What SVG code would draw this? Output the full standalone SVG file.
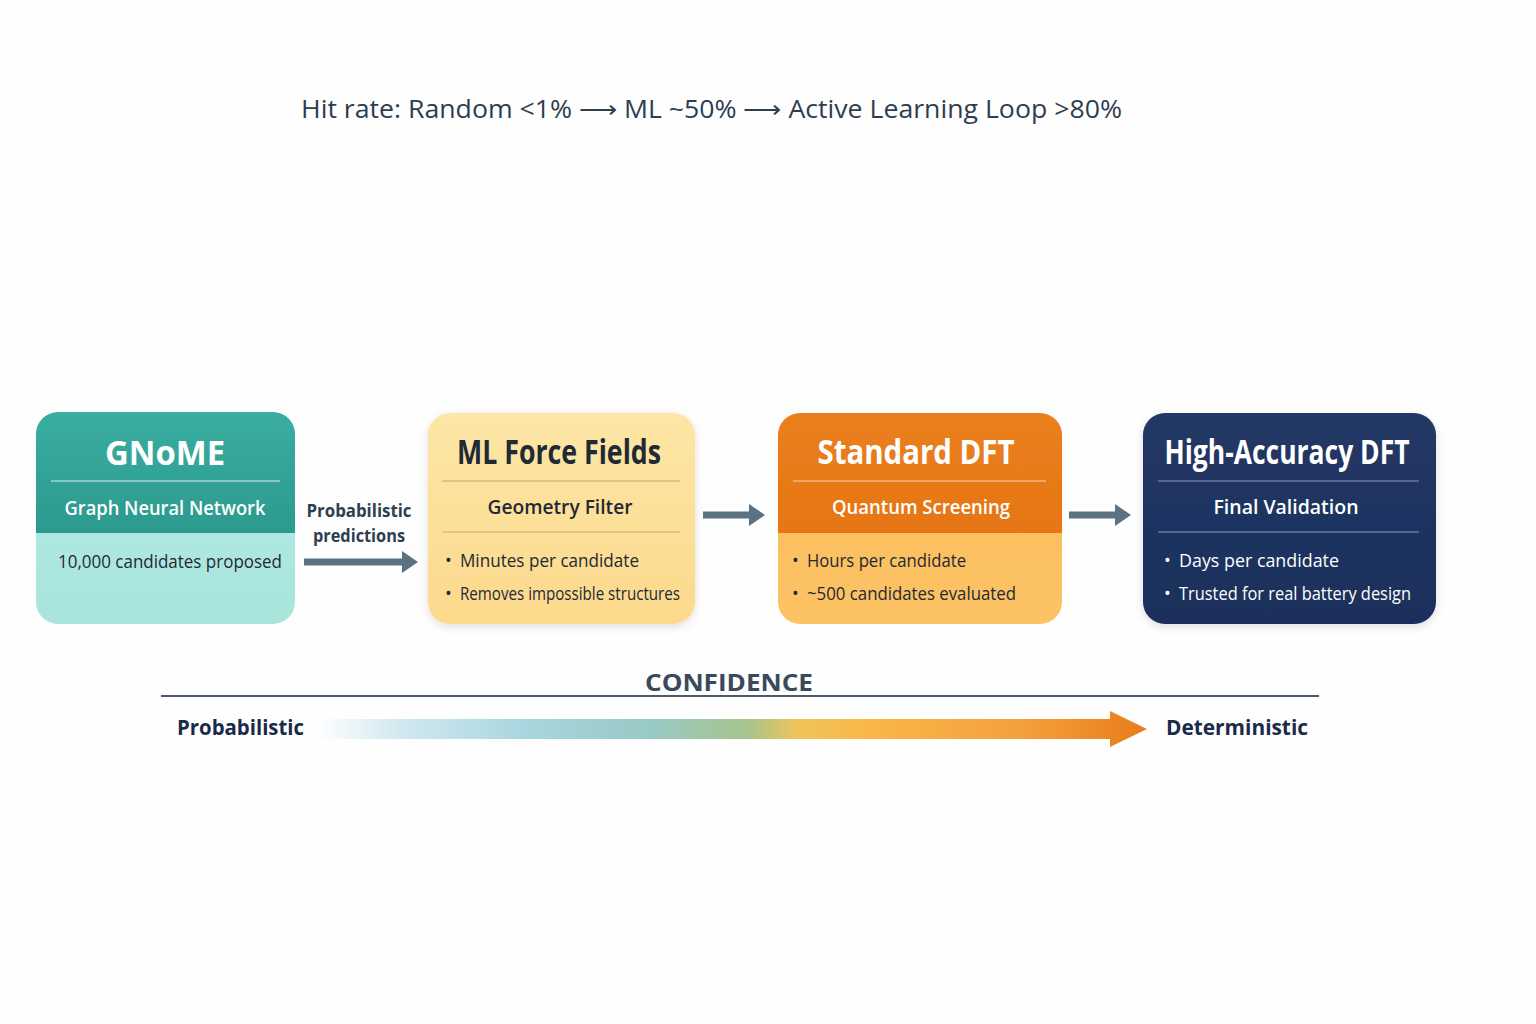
<svg xmlns="http://www.w3.org/2000/svg" width="1536" height="1024" viewBox="0 0 1536 1024">
<style>
text{font-family:"Open Sans","Noto Sans","Liberation Sans",sans-serif}
.t{font-size:34px;font-weight:700;text-anchor:middle}
.s{font-size:20px;font-weight:600;text-anchor:middle}
.b{font-size:18px;font-weight:400}
.w{fill:#ffffff}
.d{fill:#1f2a36}
.lbl{font-size:18px;font-weight:700;fill:#2d3e50;text-anchor:middle}
.conn{fill:#5b7283}
</style>
<defs>
<filter id="sh" x="-10%" y="-10%" width="120%" height="125%">
<feDropShadow dx="0" dy="3" stdDeviation="4" flood-color="#000" flood-opacity="0.12"/>
</filter>
<linearGradient id="gTop" x1="0" y1="0" x2="0" y2="1"><stop offset="0" stop-color="#3aada1"/><stop offset="1" stop-color="#2c9a8e"/></linearGradient>
<linearGradient id="gBot" x1="0" y1="0" x2="0" y2="1"><stop offset="0" stop-color="#b4ebe3"/><stop offset="1" stop-color="#a9e5dd"/></linearGradient>
<linearGradient id="yel" x1="0" y1="0" x2="0" y2="1"><stop offset="0" stop-color="#fde6a6"/><stop offset="1" stop-color="#fcd98c"/></linearGradient>
<linearGradient id="oTop" x1="0" y1="0" x2="0" y2="1"><stop offset="0" stop-color="#ea801f"/><stop offset="1" stop-color="#e67514"/></linearGradient>
<linearGradient id="oBot" x1="0" y1="0" x2="0" y2="1"><stop offset="0" stop-color="#fbbd5a"/><stop offset="1" stop-color="#fcc264"/></linearGradient>
<linearGradient id="navy" x1="0" y1="0" x2="0" y2="1"><stop offset="0" stop-color="#223866"/><stop offset="1" stop-color="#1c2f5b"/></linearGradient>
<linearGradient id="conf" x1="315" y1="0" x2="1147" y2="0" gradientUnits="userSpaceOnUse">
<stop offset="0" stop-color="#ffffff"/>
<stop offset="0.1" stop-color="#d2e9f0"/>
<stop offset="0.25" stop-color="#a9d6df"/>
<stop offset="0.4" stop-color="#98cac6"/>
<stop offset="0.52" stop-color="#a7c48c"/>
<stop offset="0.58" stop-color="#eec55a"/>
<stop offset="0.65" stop-color="#f9b94c"/>
<stop offset="0.85" stop-color="#f4a03c"/>
<stop offset="1" stop-color="#e87c1a"/>
</linearGradient>
<clipPath id="c1"><rect x="36" y="412" width="259" height="212" rx="22"/></clipPath>
<clipPath id="c3"><rect x="778" y="413" width="284" height="211" rx="22"/></clipPath>
</defs>
<rect width="1536" height="1024" fill="#fefefe"/>

<text x="301" y="118" font-size="26" fill="#2d3e50" textLength="821" lengthAdjust="spacingAndGlyphs">Hit rate: Random &lt;1% ⟶ ML ~50% ⟶ Active Learning Loop &gt;80%</text>

<g id="gnome">
<g filter="url(#sh)" clip-path="url(#c1)">
<rect x="36" y="412" width="259" height="212" fill="url(#gBot)"/>
<rect x="36" y="412" width="259" height="121" fill="url(#gTop)"/>
</g>
<text class="t w" x="165" y="465" textLength="120" lengthAdjust="spacingAndGlyphs">GNoME</text>
<line x1="51" y1="481" x2="280" y2="481" stroke="#d8f0ec" stroke-width="1.2"/>
<text class="s w" x="165" y="515" textLength="201" lengthAdjust="spacingAndGlyphs">Graph Neural Network</text>
<text class="b d" x="58" y="568" font-size="19" textLength="224" lengthAdjust="spacingAndGlyphs">10,000 candidates proposed</text>
</g>

<g id="mlff">
<rect x="428" y="413" width="267" height="211" rx="22" fill="url(#yel)" filter="url(#sh)"/>
<text class="t d" x="559" y="464" font-weight="600" font-size="32" textLength="204" lengthAdjust="spacingAndGlyphs">ML Force Fields</text>
<line x1="442" y1="481" x2="680" y2="481" stroke="#b9a377" stroke-width="1.2"/>
<text class="s d" x="560" y="514" font-weight="500" textLength="145" lengthAdjust="spacingAndGlyphs">Geometry Filter</text>
<line x1="442" y1="532" x2="680" y2="532" stroke="#e7a35c" stroke-width="1.2"/>
<text class="b d" x="445" y="567">•</text>
<text class="b d" x="460" y="567" textLength="179" lengthAdjust="spacingAndGlyphs">Minutes per candidate</text>
<text class="b d" x="445" y="600">•</text>
<text class="b d" x="460" y="600" font-size="17" textLength="220" lengthAdjust="spacingAndGlyphs">Removes impossible structures</text>
</g>

<g id="sdft">
<g filter="url(#sh)" clip-path="url(#c3)">
<rect x="778" y="413" width="284" height="211" fill="url(#oBot)"/>
<rect x="778" y="413" width="284" height="120" fill="url(#oTop)"/>
</g>
<text class="t w" x="916" y="464" textLength="197" lengthAdjust="spacingAndGlyphs">Standard DFT</text>
<line x1="793" y1="481" x2="1046" y2="481" stroke="#f8d2ae" stroke-width="1.2"/>
<text class="s w" x="921" y="514" textLength="178" lengthAdjust="spacingAndGlyphs">Quantum Screening</text>
<text class="b d" x="792" y="567">•</text>
<text class="b d" x="807" y="567" textLength="159" lengthAdjust="spacingAndGlyphs">Hours per candidate</text>
<text class="b d" x="792" y="600">•</text>
<text class="b d" x="807" y="600" textLength="209" lengthAdjust="spacingAndGlyphs">~500 candidates evaluated</text>
</g>

<g id="hadft">
<rect x="1143" y="413" width="293" height="211" rx="22" fill="url(#navy)" filter="url(#sh)"/>
<text class="t w" x="1287" y="464" font-weight="600" font-size="32" textLength="245" lengthAdjust="spacingAndGlyphs">High-Accuracy DFT</text>
<line x1="1158" y1="481" x2="1419" y2="481" stroke="#8a9ab8" stroke-width="1.2"/>
<text class="s w" x="1286" y="514" textLength="145" lengthAdjust="spacingAndGlyphs">Final Validation</text>
<line x1="1158" y1="532" x2="1419" y2="532" stroke="#8a9ab8" stroke-width="1.2"/>
<text class="b w" x="1164" y="567">•</text>
<text class="b w" x="1179" y="567" textLength="160" lengthAdjust="spacingAndGlyphs">Days per candidate</text>
<text class="b w" x="1164" y="600">•</text>
<text class="b w" x="1179" y="600" textLength="232" lengthAdjust="spacingAndGlyphs">Trusted for real battery design</text>
</g>

<g id="connectors">
<text class="lbl" x="359" y="517" textLength="105" lengthAdjust="spacingAndGlyphs">Probabilistic</text>
<text class="lbl" x="359" y="542" textLength="92" lengthAdjust="spacingAndGlyphs">predictions</text>
<polygon class="conn" points="304,558.5 402,558.5 402,551 418,562 402,573 402,565.5 304,565.5"/>
<polygon class="conn" points="703,511.5 749,511.5 749,504 765,515 749,526 749,518.5 703,518.5"/>
<polygon class="conn" points="1069,511.5 1115,511.5 1115,504 1131,515 1115,526 1115,518.5 1069,518.5"/>
</g>

<g id="confidence">
<text x="729" y="691" font-size="23" font-weight="700" fill="#3a4a5c" text-anchor="middle" textLength="168" lengthAdjust="spacingAndGlyphs">CONFIDENCE</text>
<line x1="161" y1="696" x2="1319" y2="696" stroke="#4a5a6b" stroke-width="2"/>
<text x="177" y="735" font-size="22" font-weight="700" fill="#1a2a4a" textLength="127" lengthAdjust="spacingAndGlyphs">Probabilistic</text>
<polygon fill="url(#conf)" points="315,719 1110,719 1110,711 1147,729 1110,747 1110,739 315,739"/>
<text x="1166" y="735" font-size="22" font-weight="700" fill="#1a2a4a" textLength="142" lengthAdjust="spacingAndGlyphs">Deterministic</text>
</g>
</svg>
